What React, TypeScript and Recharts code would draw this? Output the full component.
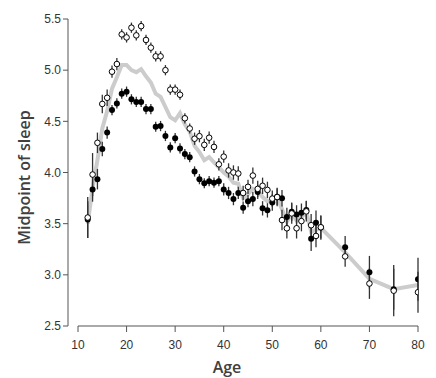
import React from 'react';
import { ComposedChart, Scatter, Line, XAxis, YAxis, ErrorBar, ReferenceLine, Label } from 'recharts';

const ages = [12,13,14,15,16,17,18,19,20,21,22,23,24,25,26,27,28,29,30,31,32,33,34,35,36,37,38,39,40,41,42,43,44,45,46,47,48,49,50,51,52,53,54,55,56,57,58,59,60,65,70,75,80];

const openValues = [3.56,3.98,4.29,4.67,4.73,4.985,5.06,5.35,5.32,5.415,5.34,5.43,5.295,5.22,5.135,5.135,5.0,4.81,4.81,4.76,4.53,4.43,4.33,4.355,4.27,4.34,4.25,4.08,4.155,4.02,4.0,3.99,3.8,3.86,3.97,3.84,3.87,3.83,3.745,3.76,3.535,3.455,3.6,3.455,3.525,3.62,3.485,3.38,3.465,3.18,2.915,2.845,2.83];
const openErr = [0.2,0.21,0.1,0.09,0.08,0.06,0.06,0.05,0.05,0.05,0.05,0.05,0.05,0.05,0.05,0.05,0.05,0.05,0.05,0.05,0.05,0.05,0.06,0.06,0.06,0.06,0.06,0.06,0.06,0.07,0.07,0.07,0.07,0.07,0.08,0.08,0.08,0.08,0.08,0.09,0.1,0.1,0.1,0.1,0.1,0.1,0.11,0.11,0.11,0.1,0.15,0.25,0.2];

const filledValues = [3.54,3.835,3.935,4.23,4.39,4.61,4.675,4.77,4.79,4.715,4.69,4.69,4.62,4.62,4.447,4.454,4.357,4.245,4.335,4.235,4.18,4.15,4.01,3.935,3.895,3.915,3.9,3.915,3.835,3.8,3.74,3.8,3.656,3.72,3.74,3.81,3.65,3.63,3.707,3.763,3.748,3.565,3.617,3.59,3.607,3.633,3.353,3.509,3.462,3.27,3.025,2.86,2.956];
const filledErr = [0.18,0.12,0.1,0.07,0.06,0.05,0.05,0.05,0.05,0.05,0.05,0.05,0.05,0.05,0.05,0.05,0.05,0.05,0.05,0.05,0.05,0.05,0.05,0.05,0.05,0.05,0.05,0.05,0.06,0.06,0.06,0.06,0.06,0.06,0.07,0.07,0.07,0.07,0.08,0.08,0.08,0.09,0.09,0.09,0.09,0.09,0.12,0.12,0.12,0.11,0.16,0.2,0.21];

const grayValues = [3.5,3.85,4.12,4.43,4.6,4.82,4.93,5.05,5.05,5.0,4.98,5.01,4.94,4.88,4.77,4.74,4.64,4.54,4.51,4.58,4.47,4.4,4.26,4.2,4.12,4.15,4.1,4.05,4.0,3.96,3.9,3.89,3.75,3.79,3.84,3.82,3.76,3.72,3.72,3.76,3.64,3.52,3.6,3.53,3.56,3.62,3.42,3.44,3.46,3.22,2.96,2.86,2.9];

const xTicks = [10,20,30,40,50,60,70,80];
const yTicks = [2.5,3.0,3.5,4.0,4.5,5.0,5.5];

const openData = ages.map((a, i) => ({ age: a, value: openValues[i], err: openErr[i] }));
const filledData = ages.map((a, i) => ({ age: a, value: filledValues[i], err: filledErr[i] }));
const grayData = ages.map((a, i) => ({ age: a, value: grayValues[i] }));

const tickFont = { fontFamily: 'Liberation Sans, Arial, sans-serif', fontSize: 12, fill: '#333' };
const labelFont = 'Open Sans, sans-serif';

const OpenDot = (p: any) => <circle cx={p.cx} cy={p.cy} r={2.8} fill="#fff" stroke="#000" strokeWidth={1} />;
const FilledDot = (p: any) => <circle cx={p.cx} cy={p.cy} r={3} fill="#000" stroke="none" />;

export default function App() {
  return (
    <ComposedChart width={420} height={370} margin={{ top: 11, right: 10, bottom: 7, left: 0 }}>
      <XAxis
        type="number"
        dataKey="age"
        domain={[7.94, 80]}
        allowDataOverflow
        ticks={xTicks}
        axisLine={false}
        tickLine={{ stroke: '#555' }}
        tickSize={6}
        tickMargin={8}
        tick={tickFont}
        height={45}
      >
        <Label
          content={(props: any) => {
            const vb = props.viewBox;
            return (
              <text x={219} y={vb.y + 47} textAnchor="middle" fontFamily={labelFont} fontWeight={600} fontSize={16} fill="#404040">
                Age
              </text>
            );
          }}
        />
      </XAxis>
      <YAxis
        type="number"
        domain={[2.5, 5.5]}
        allowDataOverflow
        ticks={yTicks}
        tickFormatter={(v: number) => v.toFixed(1)}
        axisLine={{ stroke: '#555' }}
        tickLine={{ stroke: '#555' }}
        tickSize={5}
        tickMargin={2}
        tick={tickFont}
        width={60}
      >
        <Label
          content={(props: any) => {
            const vb = props.viewBox;
            const cx = 22;
            const cy = vb.y + vb.height / 2 + 5;
            return (
              <text x={cx} y={cy} transform={`rotate(-90 ${cx} ${cy})`} textAnchor="middle" fontFamily={labelFont} fontWeight={600} fontSize={16} fill="#404040">
                Midpoint of sleep
              </text>
            );
          }}
        />
      </YAxis>
      <ReferenceLine segment={[{ x: 10, y: 2.5 }, { x: 80, y: 2.5 }]} stroke="#555" strokeWidth={1} />
      <Line data={grayData} dataKey="value" type="linear" stroke="#cccccc" strokeWidth={4} dot={false} isAnimationActive={false} />
      <Scatter data={filledData} dataKey="value" shape={FilledDot} isAnimationActive={false}>
        <ErrorBar dataKey="err" direction="y" width={0} stroke="#333" strokeWidth={1.3} />
      </Scatter>
      <Scatter data={openData} dataKey="value" shape={OpenDot} isAnimationActive={false}>
        <ErrorBar dataKey="err" direction="y" width={0} stroke="#333" strokeWidth={1.3} />
      </Scatter>
    </ComposedChart>
  );
}
